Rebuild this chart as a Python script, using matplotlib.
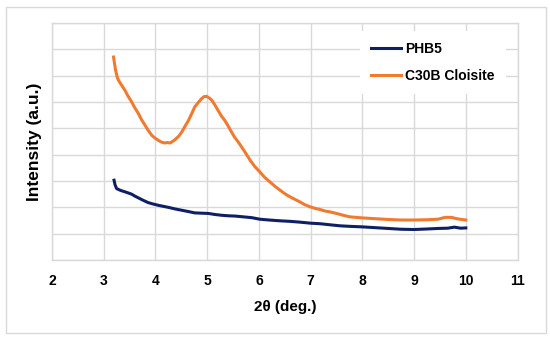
import matplotlib
matplotlib.use('Agg')
import matplotlib.pyplot as plt
from matplotlib.patches import Rectangle

plt.rcParams['font.family'] = ['Liberation Sans', 'DejaVu Sans']

# C30B Cloisite (orange)
cloisite_x = [3.19, 3.21, 3.23, 3.26, 3.28, 3.34, 3.41, 3.47, 3.54, 3.60, 3.67, 3.73, 3.80,
              3.86, 3.93, 3.99, 4.05, 4.11, 4.18, 4.23, 4.28, 4.33, 4.38, 4.45, 4.51, 4.57,
              4.64, 4.70, 4.76, 4.83, 4.89, 4.94, 4.99, 5.04, 5.09, 5.15, 5.21, 5.28, 5.34,
              5.41, 5.47, 5.53, 5.60, 5.67, 5.73, 5.83, 5.92, 6.02, 6.11, 6.21, 6.31, 6.41,
              6.50, 6.60, 6.70, 6.79, 6.89, 6.99, 7.09, 7.18, 7.28, 7.37, 7.50, 7.63, 7.76,
              7.88, 8.00, 8.25, 8.50, 8.75, 9.00, 9.25, 9.46, 9.60, 9.72, 9.85, 10.00]
cloisite_y = [7.70, 7.45, 7.20, 6.95, 6.84, 6.65, 6.44, 6.22, 6.00, 5.78, 5.56, 5.33, 5.11,
              4.92, 4.73, 4.63, 4.55, 4.48, 4.44, 4.46, 4.44, 4.50, 4.57, 4.70, 4.86, 5.07,
              5.30, 5.55, 5.81, 5.98, 6.12, 6.20, 6.21, 6.15, 6.06, 5.88, 5.68, 5.45, 5.30,
              5.07, 4.86, 4.66, 4.48, 4.28, 4.10, 3.79, 3.55, 3.34, 3.14, 2.97, 2.80, 2.65,
              2.52, 2.40, 2.30, 2.21, 2.10, 2.02, 1.96, 1.92, 1.86, 1.83, 1.77, 1.70, 1.64,
              1.62, 1.60, 1.57, 1.54, 1.52, 1.52, 1.53, 1.55, 1.62, 1.62, 1.56, 1.52]

# PHB5 (navy)
phb5_x = [3.20, 3.22, 3.25, 3.33, 3.41, 3.47, 3.54, 3.60, 3.67, 3.76, 3.86, 3.95, 4.05,
          4.15, 4.25, 4.38, 4.51, 4.64, 4.76, 4.89, 5.02, 5.15, 5.28, 5.41, 5.54, 5.70,
          5.86, 6.02, 6.20, 6.41, 6.60, 6.79, 7.00, 7.18, 7.37, 7.57, 7.76, 8.00, 8.25,
          8.50, 8.75, 9.00, 9.25, 9.46, 9.65, 9.78, 9.90, 10.00]
phb5_y = [3.03, 2.85, 2.71, 2.64, 2.59, 2.55, 2.50, 2.43, 2.36, 2.27, 2.18, 2.13, 2.08,
          2.04, 2.00, 1.94, 1.89, 1.84, 1.79, 1.78, 1.77, 1.73, 1.70, 1.68, 1.67, 1.64,
          1.61, 1.55, 1.52, 1.49, 1.47, 1.44, 1.40, 1.38, 1.34, 1.30, 1.28, 1.26, 1.23,
          1.20, 1.17, 1.16, 1.18, 1.20, 1.21, 1.25, 1.21, 1.22]

x_ticks = [2, 3, 4, 5, 6, 7, 8, 9, 10, 11]
y_grid = list(range(10))

fig = plt.figure(figsize=(5.5, 3.4), dpi=100)
ax = fig.add_axes([0.0945, 0.235, 0.8465, 0.698])

ax.plot(phb5_x, phb5_y, color='#0e1f66', lw=2.2, label='PHB5')
ax.plot(cloisite_x, cloisite_y, color='#f07a30', lw=2.2, label='C30B Cloisite')

ax.set_xlim(2, 11)
ax.set_ylim(0, 9)
ax.set_xticks(x_ticks)
ax.set_yticks(y_grid)
ax.set_yticklabels([])
ax.tick_params(length=0)
ax.tick_params(axis='x', pad=10, labelsize=10)
for lab in ax.get_xticklabels():
    lab.set_fontweight('bold')
ax.grid(True, color='#d9d9d9', lw=1)
ax.set_axisbelow(True)
for s in ax.spines.values():
    s.set_color('#d9d9d9')
    s.set_linewidth(1)

ax.set_xlabel('2θ (deg.)', fontsize=11, fontweight='bold')
ax.xaxis.set_label_coords(0.5, -0.17)
ax.set_ylabel('Intensity (a.u.)', fontsize=12.5, fontweight='bold')
ax.yaxis.set_label_coords(-0.022, 0.5)

leg = ax.legend(loc='upper right', bbox_to_anchor=(0.99, 0.995), frameon=True,
                fancybox=False, edgecolor='none', framealpha=1,
                prop={'weight': 'bold', 'size': 10}, handlelength=2.2,
                labelspacing=0.9, handletextpad=0.3, borderpad=0.8)

fig.patches.append(Rectangle((0.011, 0.021), 0.982, 0.957, transform=fig.transFigure,
                             fill=False, edgecolor='#d9d9d9', lw=1))

fig.savefig('out.png', dpi=100)
